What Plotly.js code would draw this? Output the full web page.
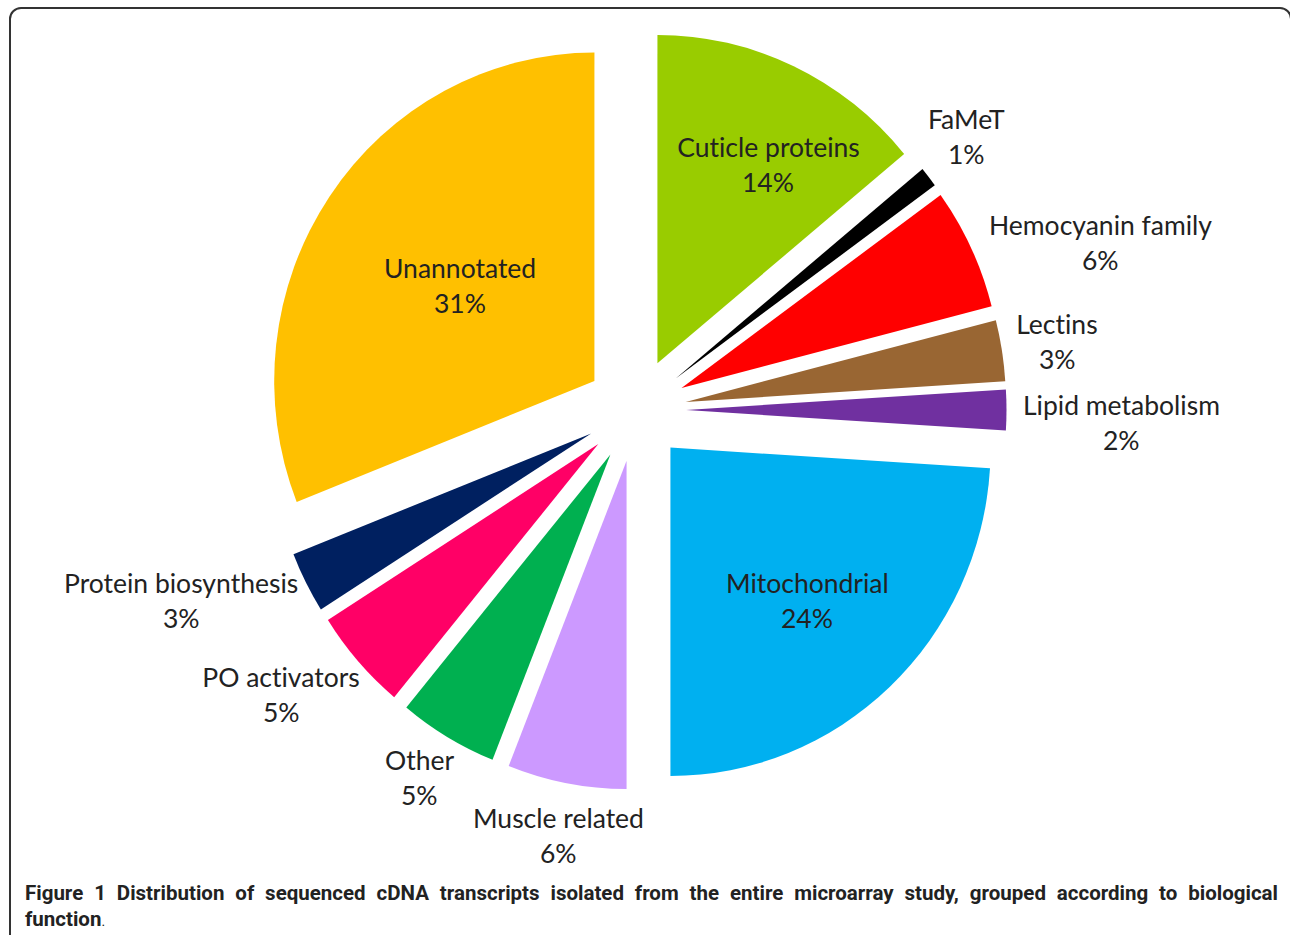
<!DOCTYPE html>
<html>
<head>
<meta charset="utf-8">
<script src="https://cdn.plot.ly/plotly-3.0.1.min.js"></script>
<style>
  html, body { margin: 0; padding: 0; background: #fff; }
  #wrap { position: relative; width: 1290px; height: 935px; overflow: hidden; }
  #chart { position: absolute; left: 0; top: 0; width: 1290px; height: 935px; }
  #chart text { font-variant-ligatures: none; font-feature-settings: "liga" 0, "clig" 0; }
  /* the reference picture is slightly narrower than tall */
  #chart .pielayer { transform-origin: 636px 410px; transform: scaleX(0.975); }
  #frame { position: absolute; left: 9px; top: 7px; width: 1283px; height: 1000px;
           border: 2px solid #333; border-radius: 12px; box-sizing: border-box; pointer-events: none; }
  #caption { position: absolute; left: 25px; top: 880px; width: 1253px;
             font-family: "Liberation Sans Narrow", "Roboto", "Liberation Sans", sans-serif;
             font-size: 20.5px; line-height: 26px; color: #222; }
  #caption .l1 { font-weight: bold; text-align: justify; text-align-last: justify; white-space: nowrap; }
  #caption .l2 { font-weight: bold; }
  #caption .dot { font-weight: normal; font-size: 14px; }
</style>
</head>
<body>
<div id="wrap">
  <div id="chart"></div>
  <div id="frame"></div>
  <div id="caption">
    <div class="l1">Figure 1 Distribution of sequenced cDNA transcripts isolated from the entire microarray study, grouped according to biological</div>
    <div class="l2">function<span class="dot">.</span></div>
  </div>
</div>
<script>
// ---- data ----
var categories = ["Cuticle proteins", "FaMeT", "Hemocyanin family", "Lectins", "Lipid metabolism",
                  "Mitochondrial", "Muscle related", "Other", "PO activators",
                  "Protein biosynthesis", "Unannotated"];
var percents = [14, 1, 6, 3, 2, 24, 6, 5, 5, 3, 31];
var sliceColors = ["#99CC00", "#000000", "#FF0000", "#996633", "#7030A0",
                   "#00B0F0", "#CC99FF", "#00B050", "#FF0066", "#002060", "#FFC000"];

// ---- label placement (pixel centres of the first text line) ----
var labelPos = [[768, 147], [967, 119], [1100, 225], [1057, 324], [1121, 405],
                [807, 583], [558, 818], [419, 760], [281, 677], [181, 583], [460, 268]];

var W = 1290, H = 935;
var lineGap = 35;
var labelFont = {family: "Lato, 'Open Sans', sans-serif", size: 26.5, color: "#222"};

var annotations = [];
categories.forEach(function (c, i) {
  var p = labelPos[i];
  annotations.push({text: c, x: p[0] / W, y: 1 - p[1] / H, xref: "paper", yref: "paper",
                    xanchor: "center", yanchor: "middle", showarrow: false, font: labelFont});
  annotations.push({text: percents[i] + "%", x: p[0] / W, y: 1 - (p[1] + lineGap) / H,
                    xref: "paper", yref: "paper", xanchor: "center", yanchor: "middle",
                    showarrow: false, font: labelFont});
});

var pullFrac = 0.157;
var trace = {
  type: "pie",
  labels: categories,
  values: percents,
  sort: false,
  direction: "clockwise",
  rotation: 0,
  pull: categories.map(function () { return pullFrac; }),
  marker: {colors: sliceColors, line: {width: 0}},
  textinfo: "none",
  hoverinfo: "label+percent",
  showlegend: false,
  domain: {x: [0.19845, 0.78760], y: [0.15508, 0.96791]}
};

var layout = {
  width: W, height: H,
  margin: {l: 0, r: 0, t: 0, b: 0},
  paper_bgcolor: "#ffffff",
  showlegend: false,
  annotations: annotations
};

Plotly.newPlot("chart", [trace], layout, {displayModeBar: false, staticPlot: true});
</script>
</body>
</html>
